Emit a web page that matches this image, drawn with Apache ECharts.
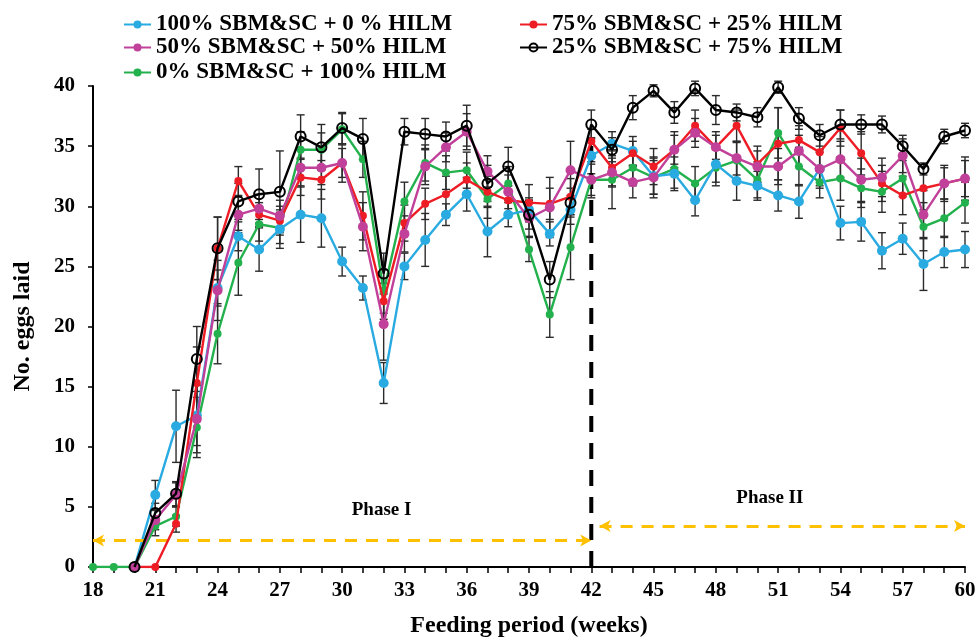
<!DOCTYPE html>
<html>
<head>
<meta charset="utf-8">
<script src="https://cdn.jsdelivr.net/npm/echarts@6/dist/echarts.min.js"></script>
<style>html,body{margin:0;padding:0;background:#fff}#chart{width:978px;height:642px}</style>
</head>
<body>
<div id="chart"></div>
<script>
// ---- data ----
const weeks = [18,19,20,21,22,23,24,25,26,27,28,29,30,31,32,33,34,35,36,37,38,39,40,41,42,43,44,45,46,47,48,49,50,51,52,53,54,55,56,57,58,59,60];
const xTicks = [18,21,24,27,30,33,36,39,42,45,48,51,54,57,60];
const yTicks = [0,5,10,15,20,25,30,35,40];
const seriesNames = ["100% SBM&SC + 0 % HILM","75% SBM&SC + 25% HILM","50% SBM&SC + 50% HILM","25% SBM&SC + 75% HILM","0% SBM&SC + 100% HILM"];

const sbm100 = [null,null,0,
  6.0,11.7,12.6,23.2,27.5,26.4,28.1,29.3,29.0,25.4,
  23.2,15.3,25.0,27.2,29.3,31.0,27.9,29.3,29.7,27.7,
  29.7,34.2,35.2,34.6,32.5,32.7,30.5,33.5,32.1,31.7,
  30.9,30.4,33.1,28.6,28.7,26.3,27.3,25.2,26.2,26.4];
const sbm100Err = [0,0,0,
  1.2,3.0,2.5,1.5,1.2,1.8,1.6,2.3,2.4,1.2,
  1.0,1.7,1.1,2.2,0.9,1.4,2.1,1.0,1.0,1.0,
  1.2,1.5,1.0,1.2,1.5,1.4,1.3,1.5,1.6,1.2,
  1.3,1.4,1.4,1.4,1.6,1.5,1.3,2.2,1.3,1.5];

const sbm75 = [null,null,0,
  0,3.6,15.3,26.5,32.1,29.3,28.8,32.4,32.2,33.6,
  29.2,22.1,28.6,30.2,31.0,32.2,31.2,30.5,30.3,30.2,
  30.8,35.4,33.2,34.4,33.3,34.7,36.7,34.9,36.7,33.5,
  35.2,35.5,34.5,36.5,34.4,31.9,30.9,31.5,31.9,32.3];
const sbm75Err = [0,0,0,
  0,0.7,3.0,2.6,1.2,1.0,1.2,1.5,1.6,1.2,
  2.0,1.5,1.5,1.3,1.5,1.4,1.3,1.2,1.5,1.3,
  1.5,1.0,1.5,1.0,1.5,1.2,1.3,1.0,1.3,1.5,
  3.0,1.2,1.3,1.5,1.8,1.5,1.6,1.8,1.3,1.5];

const sbm50 = [null,null,0,
  3.9,6.0,12.3,23.0,29.3,29.8,29.2,33.2,33.2,33.6,
  28.3,20.2,27.7,33.3,34.9,36.2,32.9,31.2,29.0,29.9,
  33.0,32.2,32.8,32.0,32.4,34.7,36.1,34.9,34.0,33.3,
  33.3,34.6,33.1,33.9,32.2,32.4,34.2,29.3,31.9,32.3];
const sbm50Err = [0,0,0,
  0.8,1.0,2.8,2.5,1.5,1.2,1.3,1.5,1.4,1.6,
  2.0,3.0,1.5,1.5,1.2,1.5,1.3,1.4,1.5,2.5,
  2.4,1.3,1.2,1.3,1.4,1.5,1.2,1.3,1.4,1.3,
  1.5,1.3,1.6,1.5,1.8,1.6,1.4,2.0,1.5,1.8];

const sbm25 = [null,null,0,
  4.5,6.1,17.3,26.5,30.4,31.0,31.2,35.8,34.9,36.5,
  35.6,24.4,36.2,36.0,35.8,36.7,31.9,33.3,29.3,23.9,
  30.3,36.8,34.7,38.2,39.6,37.8,39.8,38.0,37.8,37.4,
  39.9,37.3,35.9,36.8,36.8,36.8,35.0,33.1,35.8,36.3];
const sbm25Err = [0,0,0,
  0.8,1.0,2.7,2.6,1.5,2.1,3.4,1.8,1.9,1.3,
  1.7,1.7,1.1,1.3,1.2,1.7,1.5,1.6,1.2,1.5,
  1.2,1.2,1.0,1.0,0.5,0.9,0.6,1.2,0.7,0.8,
  0.5,0.9,0.9,1.2,0.8,0.7,0.9,0.5,0.6,0.6];

const sbm0 = [0,0,0,
  3.4,4.2,11.6,19.4,25.3,28.5,28.2,34.7,34.7,36.4,
  33.9,22.9,30.4,33.6,32.8,33.0,30.6,31.9,26.4,21.0,
  26.6,32.2,32.2,33.2,32.4,33.1,31.9,33.2,33.8,32.2,
  36.1,33.3,32.0,32.3,31.5,31.2,32.3,28.3,29.0,30.3];
const sbm0Err = [0,0,0,
  0.8,0.8,2.5,2.5,2.7,1.4,1.3,1.5,1.4,1.3,
  1.5,1.8,1.6,1.5,1.4,1.5,1.6,1.4,1.0,1.9,
  2.7,1.5,2.4,1.5,1.7,1.6,1.4,1.5,1.5,1.5,
  2.1,1.6,1.3,1.8,1.6,1.7,1.5,2.0,1.6,1.7];

// phase annotations (data coordinates)
const phaseDivider = [[42,0],[42,35.5]];
const phaseIArrow = [[18,2.2],[42,2.2]];
const phaseIIArrow = [[42.4,3.4],[60,3.4]];
const phaseLabels = [{name:"Phase I", pos:[31.9,4.7]},{name:"Phase II", pos:[50.6,5.7]}];

// ---- chart ----
const FONT = "Liberation Serif";
const ORANGE = "#FFC000";
const colors = ["#29ABE2","#EE1C25","#C0409A","#000000","#22B14C"];
const valuesList = [sbm100,sbm75,sbm50,sbm25,sbm0];
const errList = [sbm100Err,sbm75Err,sbm50Err,sbm25Err,sbm0Err];

function pairs(vals){ return weeks.map((w,i)=>[w, vals[i]]); }
function errData(vals, errs){
  const out = [];
  weeks.forEach((w,i)=>{ if(vals[i]!=null && errs[i]>0) out.push([w, vals[i]-errs[i], vals[i]+errs[i]]); });
  return out;
}
function errRender(params, api){
  const x = api.value(0);
  const lo = api.coord([x, api.value(1)]);
  const hi = api.coord([x, api.value(2)]);
  const hw = 4;
  const st = {stroke:'#2b2b2b', lineWidth:1.4};
  return {type:'group', children:[
    {type:'line', shape:{x1:lo[0],y1:lo[1],x2:hi[0],y2:hi[1]}, style:st},
    {type:'line', shape:{x1:lo[0]-hw,y1:lo[1],x2:lo[0]+hw,y2:lo[1]}, style:st},
    {type:'line', shape:{x1:hi[0]-hw,y1:hi[1],x2:hi[0]+hw,y2:hi[1]}, style:st}
  ]};
}
function labelRender(params, api){
  const p = api.coord([api.value(0), api.value(1)]);
  return {type:'text', x:p[0], y:p[1], style:{text: phaseLabels[params.dataIndex].name,
    fill:'#000', font:'bold 19px "Liberation Serif"', align:'center', verticalAlign:'middle'}};
}

const series = [];
valuesList.forEach((vals,k)=>{
  series.push({type:'custom', name:'err'+k, renderItem:errRender, data:errData(vals, errList[k]),
    encode:{x:0,y:[1,2]}, z:1, silent:true});
});
const order = [4,0,1,2,3];
order.forEach((k,j)=>{
  const isOpen = k===3;
  series.push({
    type:'line', name:seriesNames[k], data:pairs(valuesList[k]),
    symbol:'circle', symbolSize: (k===1||k===4)?8:10,
    showSymbol:true, connectNulls:false,
    lineStyle:{color:colors[k], width:2.4},
    itemStyle: isOpen ? {color:'rgba(255,255,255,0)', borderColor:'#000', borderWidth:2} : {color:colors[k]},
    z: 3+j
  });
});
series.push({type:'line', data:phaseDivider, symbol:'none', silent:true, z:2,
  lineStyle:{color:'#000', width:4, type:[16,11]}});
series.push({type:'line', data:[], silent:true, z:2,
  markLine:{silent:true, symbol:['arrow','arrow'], symbolSize:[9,11], label:{show:false},
    lineStyle:{color:ORANGE, width:3, type:[12,9]},
    data:[
      [{coord:phaseIArrow[0]},{coord:phaseIArrow[1]}],
      [{coord:phaseIIArrow[0]},{coord:phaseIIArrow[1]}]
    ]}
});
series.push({type:'custom', silent:true, z:5, renderItem:labelRender,
  data: phaseLabels.map(p=>p.pos), encode:{x:0,y:1}});

const legendPos = [[123,13],[519,13],[123,36],[519,36],[123,61]];
const legends = seriesNames.map((n,k)=>({
  data:[n], left:legendPos[k][0], top:legendPos[k][1], padding:0,
  itemWidth:27, itemHeight:10, selectedMode:false,
  textStyle:{fontFamily:FONT, fontWeight:'bold', fontSize:23, color:'#000'}
}));

const chart = echarts.init(document.getElementById('chart'), null, {renderer:'canvas'});
chart.setOption({
  animation:false,
  backgroundColor:'#fff',
  legend: legends,
  grid:{left:93, right:13, top:86, bottom:75, containLabel:false, outerBoundsMode:'none'},
  xAxis:{
    type:'value', min:xTicks[0], max:xTicks[xTicks.length-1], interval:3,
    name:'Feeding period (weeks)', nameLocation:'middle', nameGap:47,
    nameTextStyle:{fontFamily:FONT, fontWeight:'bold', fontSize:24, color:'#000'},
    axisLine:{show:true, onZero:false, lineStyle:{color:'#000', width:2}},
    axisTick:{show:true, inside:false, length:6, lineStyle:{color:'#000', width:1.5}},
    minorTick:{show:true, splitNumber:3, length:6, lineStyle:{color:'#000', width:1.5}},
    splitLine:{show:false},
    axisLabel:{fontFamily:FONT, fontWeight:'bold', fontSize:21, color:'#000', margin:13,
      formatter:v=> xTicks.includes(v)? String(v):''}
  },
  yAxis:{
    type:'value', min:yTicks[0], max:yTicks[yTicks.length-1], interval:5,
    name:'No. eggs laid', nameLocation:'middle', nameGap:58, nameRotate:90,
    nameTextStyle:{fontFamily:FONT, fontWeight:'bold', fontSize:24, color:'#000'},
    axisLine:{show:true, lineStyle:{color:'#000', width:2}},
    axisTick:{show:true, inside:false, length:5, lineStyle:{color:'#000', width:1.5}},
    splitLine:{show:false},
    axisLabel:{fontFamily:FONT, fontWeight:'bold', fontSize:21, color:'#000', margin:18,
      formatter:v=> yTicks.includes(v)? String(v):''}
  },
  series: series
});
</script>
</body>
</html>
